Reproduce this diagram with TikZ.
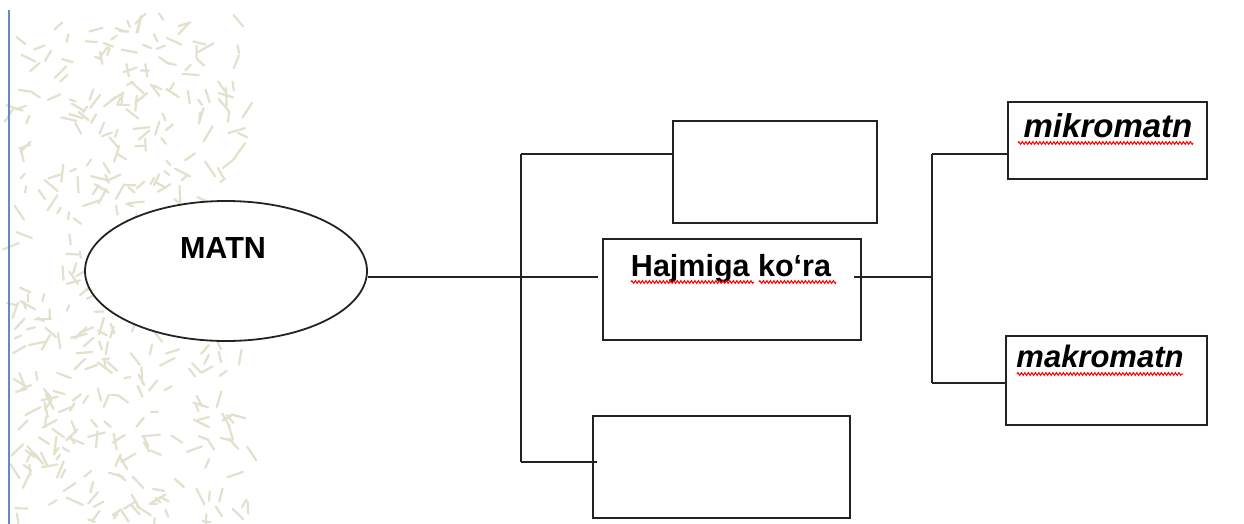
\documentclass[tikz,border=0pt]{standalone}
\usepackage{fontspec}
\setmainfont{Liberation Sans}
\usetikzlibrary{shapes.geometric,decorations.pathmorphing,calc}
\definecolor{linec}{RGB}{35,35,35}
\definecolor{patc}{RGB}{228,224,206}
\definecolor{bluel}{RGB}{105,135,195}
\begin{document}
\begin{tikzpicture}[x=1pt,y=-1pt,
  box/.style={draw=linec,line width=2.2pt,rectangle,inner sep=0pt,fill=white},
  oval/.style={draw=linec,line width=1.8pt,ellipse,inner sep=0pt,fill=white},
  conn/.style={draw=linec,line width=2.2pt},
  lbl/.style={font=\fontsize{30.5}{36}\selectfont\bfseries,anchor=base,inner sep=0pt},
  ilbl/.style={font=\fontsize{33}{38}\selectfont\bfseries\itshape,anchor=base,inner sep=0pt},
  spell/.style={draw=red,line width=1pt,decorate,decoration={zigzag,segment length=3.5pt,amplitude=1.4pt}}]
\useasboundingbox[fill=white] (0,0) rectangle (1244,524);
% background texture
\pgfmathsetseed{7}
\foreach \i in {1,...,400}{
  \pgfmathsetmacro\px{12+236*rnd}
  \pgfmathsetmacro\py{12+510*rnd}
  \pgfmathsetmacro\pa{360*rnd}
  \pgfmathsetmacro\pl{6+12*rnd}
  \draw[patc,line width=2.2pt,line cap=round] (\px,\py) -- ++(\pa:\pl);
}
\draw[bluel,line width=1.5pt] (9,10) -- (9,524);
% nodes
\node[oval,minimum width=282pt,minimum height=140pt] (matn) at (226,271) {};
\node[box,minimum width=204pt,minimum height=102pt] (b1) at (775,172) {};
\node[box,minimum width=258pt,minimum height=101pt] (b2) at (732,289.5) {};
\node[box,minimum width=257pt,minimum height=102pt] (b3) at (721.5,467) {};
\node[box,minimum width=199pt,minimum height=77pt] (mk) at (1107.5,140.5) {};
\node[box,minimum width=201pt,minimum height=89pt] (mc) at (1106.5,380.5) {};
% texts
\node[lbl] (tmatn) at (223,258) {MATN};
\node[lbl] (thaj) at (731,276) {Hajmiga ko‘ra};
\node[ilbl] (tmik) at (1108,138) {mikromatn};
\node[ilbl,font=\fontsize{31}{36}\selectfont\bfseries\itshape] (tmak) at (1100,367) {makromatn};
% spell-check underlines
\draw[spell] (631,282) -- (754,282);
\draw[spell] (759,282) -- (836,282);
\draw[spell] (1018,143) -- (1193,143);
\draw[spell] (1017,374) -- (1183,374);
% connectors
\coordinate (m1) at (521,277);
\coordinate (jt) at (521,154);
\coordinate (jb) at (521,462);
\coordinate (r1) at (932,277);
\coordinate (rt) at (932,154);
\coordinate (rb) at (932,383);
\draw[conn] (matn.east |- m1) -- ($(b2.west |- m1)+(-4,0)$);
\draw[conn] (jt) -- (jb);
\draw[conn] (jt) -- (b1.west |- jt);
\draw[conn] (jb) -- ($(b3.west |- jb)+(5,0)$);
\draw[conn] ($(b2.east |- r1)+(-8,0)$) -- (r1);
\draw[conn] (rt) -- (rb);
\draw[conn] (rt) -- (mk.west |- rt);
\draw[conn] (rb) -- (mc.west |- rb);
\end{tikzpicture}
\end{document}
